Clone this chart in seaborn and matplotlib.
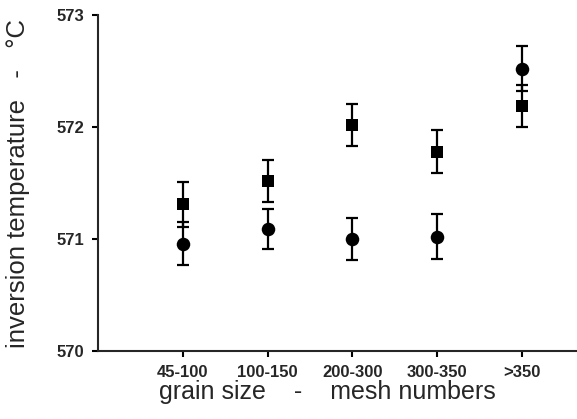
import numpy as np
import pandas as pd
import matplotlib
matplotlib.use("Agg")
import matplotlib.pyplot as plt
import seaborn as sns

# grain size classes (mesh numbers)
categories = ["45-100", "100-150", "200-300", "300-350", ">350"]

# inversion temperature, two sample series
square_vals = [571.31, 571.52, 572.02, 571.78, 572.19]
square_err = [0.20, 0.19, 0.19, 0.19, 0.19]
circle_vals = [570.96, 571.09, 571.00, 571.02, 572.52]
circle_err = [0.19, 0.18, 0.19, 0.20, 0.20]

sns.set_style("ticks")
plt.rcParams["font.family"] = ["Liberation Sans", "DejaVu Sans"]

fig = plt.figure(figsize=(5.77, 4.19), dpi=100)
ax = fig.add_axes([0.170, 0.162, 0.830, 0.802])

xpos = np.arange(1, len(categories) + 1)
df_sq = pd.DataFrame({"x": xpos, "y": square_vals, "err": square_err})
df_ci = pd.DataFrame({"x": xpos, "y": circle_vals, "err": circle_err})

for d, mk, s in [(df_sq, "s", 85), (df_ci, "o", 95)]:
    ax.errorbar(d["x"], d["y"], yerr=d["err"], fmt="none", ecolor="black",
                elinewidth=1.6, capsize=4.5, capthick=1.6, zorder=2)
    sns.scatterplot(data=d, x="x", y="y", marker=mk, s=s, color="black",
                    edgecolor="black", linewidth=0, ax=ax, zorder=3)

ax.set_xlim(0, 5.65)
ax.set_ylim(570, 573)
ax.set_xticks(xpos)
ax.set_xticklabels(categories)
ax.set_yticks([570, 571, 572, 573])
ax.set_xlabel("grain size    -    mesh numbers", fontsize=18)
ax.set_ylabel("inversion temperature   -   °C", fontsize=18.5)
ax.xaxis.set_label_coords(0.478, -0.085)
ax.yaxis.set_label_coords(-0.142, 0.5)

for lbl in ax.get_xticklabels() + ax.get_yticklabels():
    lbl.set_fontweight("bold")
    lbl.set_fontsize(12)

sns.despine(ax=ax)
for sp in ["left", "bottom"]:
    ax.spines[sp].set_linewidth(1.5)
ax.tick_params(axis="both", direction="out", width=1.5, length=4, color="black")
ax.tick_params(axis="y", pad=6)
ax.tick_params(axis="x", pad=6)

fig.savefig("out.png", dpi=100)
